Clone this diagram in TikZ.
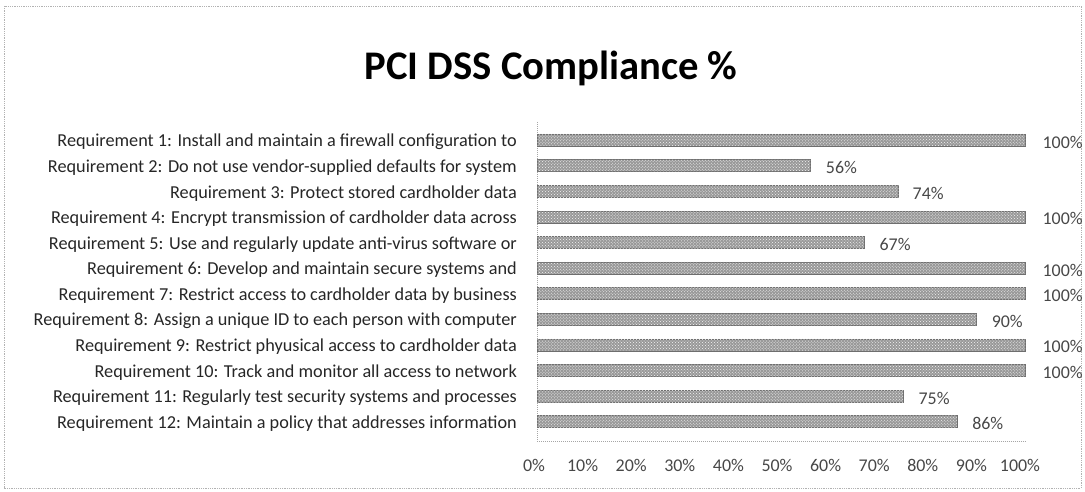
\documentclass[tikz,border=0pt]{standalone}
\usepackage{fontspec}
\setmainfont{Carlito}
\usepackage{tikz}
\usetikzlibrary{patterns}
\definecolor{chartgray}{HTML}{6E6E6E}
\definecolor{charttext}{HTML}{262626}

\begin{document}
\begin{tikzpicture}[x=1bp,y=-1bp]

  \tikzstyle{frame}=[draw=gray!60,densely dotted,line width=0.8bp]
  \tikzstyle{axis}=[draw=gray!70,densely dotted,line width=1bp]
  \tikzstyle{title}=[font=\fontsize{40.8}{44}\selectfont\bfseries,text=black]
  \tikzstyle{label}=[anchor=east,inner sep=0,font=\fontsize{18.3}{20}\selectfont,text=charttext]
  \tikzstyle{value}=[anchor=west,inner sep=0,font=\fontsize{18}{20}\selectfont,text=charttext!85]
  \tikzstyle{tick}=[inner sep=0,font=\fontsize{18}{20}\selectfont,text=charttext!85]
  \tikzstyle{bar}=[anchor=west,inner sep=0,minimum height=12bp,fill=gray!80,draw=chartgray,
    postaction={pattern=crosshatch dots,pattern color=white!92!gray}]

  \useasboundingbox (0,0) rectangle (1085,492);
  \path[frame] (4,6) rectangle (1081,488);

  \node[title](ttl) at (551,68){PCI DSS Compliance \%};

  % axes
  \coordinate (top) at (537,122);
  \coordinate (org) at (537,441);
  \coordinate (end) at (1025,441);
  \draw[axis] (top)--(org)--(end);

  % requirement labels
  \path
  (517,142) node[label](r1){Requirement 1: Install and maintain a firewall configuration to}
  (517,167.6) node[label](r2){Requirement 2: Do not use vendor-supplied defaults for system}
  (517,193.2) node[label](r3){Requirement 3: Protect stored cardholder data}
  (517,218.8) node[label](r4){Requirement 4: Encrypt transmission of cardholder data across}
  (517,244.4) node[label](r5){Requirement 5: Use and regularly update anti-virus software or}
  (517,270) node[label](r6){Requirement 6: Develop and maintain secure systems and}
  (517,295.6) node[label](r7){Requirement 7: Restrict access to cardholder data by business}
  (517,321.2) node[label](r8){Requirement 8: Assign a unique ID to each person with computer}
  (517,346.8) node[label](r9){Requirement 9: Restrict phyusical access to cardholder data}
  (517,372.4) node[label](r10){Requirement 10: Track and monitor all access to network}
  (517,398) node[label](r11){Requirement 11: Regularly test security systems and processes}
  (517,423.6) node[label](r12){Requirement 12: Maintain a policy that addresses information};

  % bars
  \path
  (537,140) node[bar,minimum width=488bp](b1){}
  (537,165.6) node[bar,minimum width=273.3bp](b2){}
  (537,191.2) node[bar,minimum width=361.1bp](b3){}
  (537,216.8) node[bar,minimum width=488bp](b4){}
  (537,242.4) node[bar,minimum width=327bp](b5){}
  (537,268) node[bar,minimum width=488bp](b6){}
  (537,293.6) node[bar,minimum width=488bp](b7){}
  (537,319.2) node[bar,minimum width=439.2bp](b8){}
  (537,344.8) node[bar,minimum width=488bp](b9){}
  (537,370.4) node[bar,minimum width=488bp](b10){}
  (537,396) node[bar,minimum width=366bp](b11){}
  (537,421.6) node[bar,minimum width=419.7bp](b12){};

  % values
  \path
  ([xshift=17bp,yshift=-2bp]b1.east) node[value](v1){100\%}
  ([xshift=15bp,yshift=-2bp]b2.east) node[value](v2){56\%}
  ([xshift=14bp,yshift=-2bp]b3.east) node[value](v3){74\%}
  ([xshift=17bp,yshift=-2bp]b4.east) node[value](v4){100\%}
  ([xshift=15bp,yshift=-2bp]b5.east) node[value](v5){67\%}
  ([xshift=17bp,yshift=-2bp]b6.east) node[value](v6){100\%}
  ([xshift=17bp,yshift=-2bp]b7.east) node[value](v7){100\%}
  ([xshift=15bp,yshift=-2bp]b8.east) node[value](v8){90\%}
  ([xshift=17bp,yshift=-2bp]b9.east) node[value](v9){100\%}
  ([xshift=17bp,yshift=-2bp]b10.east) node[value](v10){100\%}
  ([xshift=15bp,yshift=-2bp]b11.east) node[value](v11){75\%}
  ([xshift=15bp,yshift=-2bp]b12.east) node[value](v12){86\%};

  % tick labels
  \path
  (534,465) node[tick](t0){0\%}
  (582.6,465) node[tick](t1){10\%}
  (631.2,465) node[tick](t2){20\%}
  (679.8,465) node[tick](t3){30\%}
  (728.4,465) node[tick](t4){40\%}
  (777,465) node[tick](t5){50\%}
  (825.6,465) node[tick](t6){60\%}
  (874.2,465) node[tick](t7){70\%}
  (922.8,465) node[tick](t8){80\%}
  (971.4,465) node[tick](t9){90\%}
  (1020,465) node[tick](t10){100\%};
\end{tikzpicture}
\end{document}
